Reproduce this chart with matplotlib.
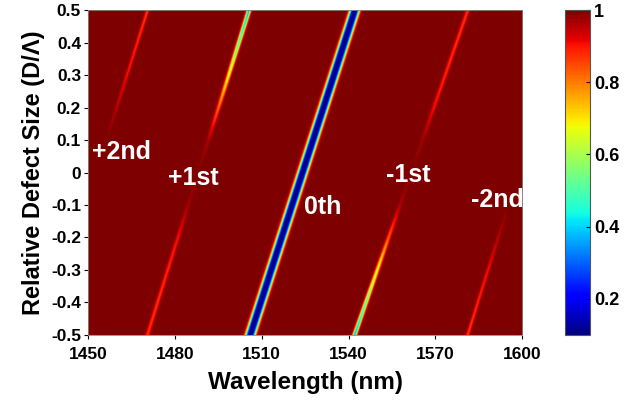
import matplotlib
matplotlib.use("Agg")
import matplotlib.pyplot as plt
import numpy as np

plt.rcParams['font.family'] = ['Liberation Sans', 'DejaVu Sans']

defect = [-0.5, -0.4, -0.3, -0.2, -0.1, 0.0, 0.1, 0.2, 0.3, 0.4, 0.5]

orders = ['+2nd', '+1st', '0th', '-1st', '-2nd']
# centre wavelength (nm) of each dip at defect -0.5 and +0.5
lam_bottom = [1435.0, 1470.5, 1506.0, 1542.0, 1581.0]
lam_top = [1470.5, 1505.5, 1542.0, 1581.0, 1616.0]
# dip width (nm)
widths = [0.6, 0.7, 1.7, 0.7, 0.6]
# minimum transmission along each dip, at the defect sizes above
t_min = {
    '+2nd': [1.0, 1.0, 1.0, 1.0, 1.0, 1.0, 1.0, 0.95, 0.9, 0.88, 0.86],
    '+1st': [0.87, 0.87, 0.88, 0.9, 0.97, 1.0, 0.96, 0.82, 0.64, 0.48, 0.36],
    '0th': [0.1, 0.09, 0.09, 0.09, 0.09, 0.09, 0.09, 0.09, 0.09, 0.09, 0.1],
    '-1st': [0.36, 0.49, 0.65, 0.83, 0.96, 1.0, 0.97, 0.9, 0.88, 0.87, 0.87],
    '-2nd': [0.86, 0.88, 0.9, 0.95, 1.0, 1.0, 1.0, 1.0, 1.0, 1.0, 1.0],
}

# label positions (wavelength, defect size)
label_x = [1461.5, 1486.5, 1531, 1560.5, 1591.5]
label_y = [0.063, -0.017, -0.105, -0.008, -0.085]

wl = np.linspace(1450, 1600, 1500)
dd = np.linspace(-0.5, 0.5, 400)
W, D = np.meshgrid(wl, dd)
T = np.ones_like(W)
for i, name in enumerate(orders):
    centre = lam_bottom[i] + (D + 0.5) * (lam_top[i] - lam_bottom[i])
    depth = 1 - np.interp(D, defect, t_min[name])
    p = 3 if name == '0th' else 2
    T -= depth * np.exp(-np.abs((W - centre) / widths[i]) ** p)
T = np.clip(T, 0.09, 1)

fig = plt.figure(figsize=(6.33, 4.05), dpi=100)
ax = fig.add_axes([0.139, 0.173, 0.686, 0.802])
im = ax.imshow(T, extent=[1450, 1600, -0.5, 0.5], origin='lower', aspect='auto',
               cmap='jet', vmin=0.1, vmax=1, interpolation='bilinear')

for i, name in enumerate(orders):
    ax.text(label_x[i], label_y[i], name, color='white', fontsize=18,
            fontweight='bold', ha='center', va='center')

ax.set_xticks([1450, 1480, 1510, 1540, 1570, 1600])
ax.set_yticks(np.round(np.arange(-0.5, 0.51, 0.1), 1))
ax.set_yticklabels(['-0.5', '-0.4', '-0.3', '-0.2', '-0.1', '0', '0.1', '0.2', '0.3', '0.4', '0.5'])
ax.tick_params(labelsize=12.5, length=3, width=0.8)
ax.tick_params(axis='x', pad=6)
ax.tick_params(axis='y', pad=2)
for lab in ax.get_xticklabels() + ax.get_yticklabels():
    lab.set_fontweight('bold')
ax.set_xlabel('Wavelength (nm)', fontsize=17.5, fontweight='bold', labelpad=6)
ax.set_ylabel('Relative Defect Size (D/Λ)', fontsize=17, fontweight='bold', labelpad=4)
for s in ax.spines.values():
    s.set_color('#888888')
    s.set_linewidth(0.6)

cax = fig.add_axes([0.893, 0.173, 0.039, 0.802])
cb = fig.colorbar(im, cax=cax, ticks=[0.2, 0.4, 0.6, 0.8, 1])
cb.ax.set_yticklabels(['0.2', '0.4', '0.6', '0.8', '1'])
cb.ax.tick_params(labelsize=13, direction='in', length=3, pad=3)
for lab in cb.ax.get_yticklabels():
    lab.set_fontweight('bold')
cb.outline.set_edgecolor('#555555')

fig.savefig('out.png', dpi=100)
